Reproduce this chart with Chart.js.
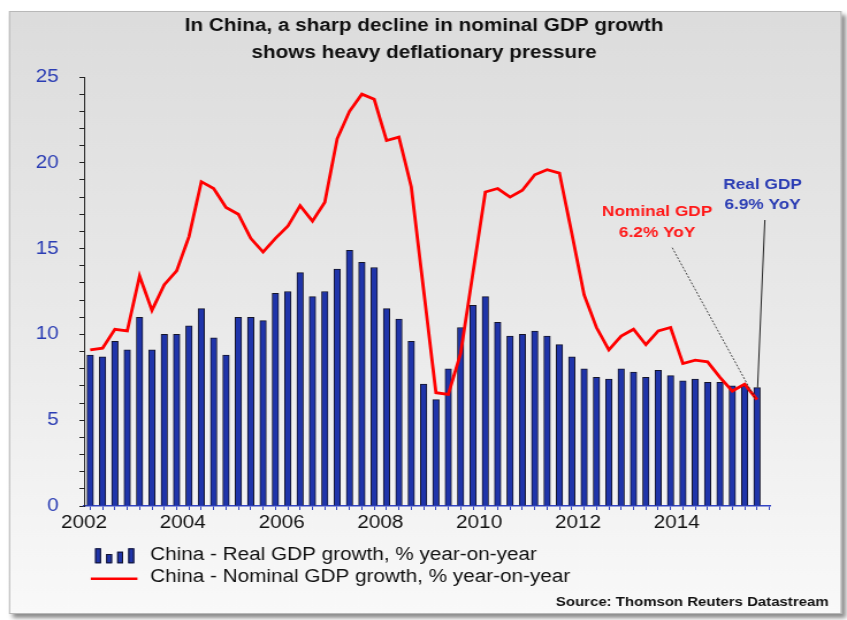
<!DOCTYPE html>
<html>
<head>
<meta charset="utf-8">
<title>China GDP growth</title>
<script src="https://cdn.jsdelivr.net/npm/chart.js@4.4.1/dist/chart.umd.min.js"></script>
<style>
  html, body { margin: 0; padding: 0; background: #ffffff; overflow: hidden; }
  #chart { display: block; }
</style>
</head>
<body>
<!-- drawn at 736 px wide, shown at 847 px wide -->
<canvas id="chart" width="736" height="620" style="width:847px;height:620px"></canvas>
<script>
// ---- data -------------------------------------------------------------
const quarters = [
  '2002 Q1','2002 Q2','2002 Q3','2002 Q4',
  '2003 Q1','2003 Q2','2003 Q3','2003 Q4',
  '2004 Q1','2004 Q2','2004 Q3','2004 Q4',
  '2005 Q1','2005 Q2','2005 Q3','2005 Q4',
  '2006 Q1','2006 Q2','2006 Q3','2006 Q4',
  '2007 Q1','2007 Q2','2007 Q3','2007 Q4',
  '2008 Q1','2008 Q2','2008 Q3','2008 Q4',
  '2009 Q1','2009 Q2','2009 Q3','2009 Q4',
  '2010 Q1','2010 Q2','2010 Q3','2010 Q4',
  '2011 Q1','2011 Q2','2011 Q3','2011 Q4',
  '2012 Q1','2012 Q2','2012 Q3','2012 Q4',
  '2013 Q1','2013 Q2','2013 Q3','2013 Q4',
  '2014 Q1','2014 Q2','2014 Q3','2014 Q4',
  '2015 Q1','2015 Q2','2015 Q3'
];

// Real GDP growth, % year-on-year
const realGdp = [
  8.8, 8.7, 9.6, 9.1,
  11.0, 9.1, 10.0, 10.0,
  10.5, 11.5, 9.8, 8.8,
  11.0, 11.0, 10.8, 12.4,
  12.5, 13.6, 12.2, 12.5,
  13.8, 14.9, 14.2, 13.9,
  11.5, 10.9, 9.6, 7.1,
  6.2, 8.0, 10.4, 11.7,
  12.2, 10.7, 9.9, 10.0,
  10.2, 9.9, 9.4, 8.7,
  8.0, 7.5, 7.4, 8.0,
  7.8, 7.5, 7.9, 7.6,
  7.3, 7.4, 7.2, 7.2,
  7.0, 7.0, 6.9
];

// Nominal GDP growth, % year-on-year
const nominalGdp = [
  9.1, 9.2, 10.3, 10.2,
  13.4, 11.4, 12.9, 13.7,
  15.7, 18.9, 18.5, 17.4,
  17.0, 15.6, 14.8, 15.6,
  16.3, 17.5, 16.6, 17.7,
  21.4, 23.0, 24.0, 23.7,
  21.3, 21.5, 18.6, 12.6,
  6.6, 6.5, 8.9, 13.6,
  18.3, 18.5, 18.0, 18.4,
  19.3, 19.6, 19.4, 15.9,
  12.3, 10.4, 9.1, 9.9,
  10.3, 9.4, 10.2, 10.4,
  8.3, 8.5, 8.4, 7.5,
  6.7, 7.1, 6.2
];

const xTickYears = [2002, 2004, 2006, 2008, 2010, 2012, 2014];
const yTickValues = [0, 5, 10, 15, 20, 25];

const titleLines = [
  'In China, a sharp decline in nominal GDP growth',
  'shows heavy deflationary pressure'
];
const seriesNames = [
  'China - Real GDP growth, % year-on-year',
  'China - Nominal GDP growth, % year-on-year'
];
const sourceNote = 'Source: Thomson Reuters Datastream';

// ---- helpers ----------------------------------------------------------
const FONT = "'Liberation Sans', Arial, Helvetica, sans-serif";
const BAR_BLUE = '#1f34aa';
const LABEL_BLUE = '#2b3db4';
const LINE_RED = '#ff0000';

// quarter label -> decimal year at the middle of the quarter
function quarterMid(label) {
  const [y, q] = label.split(' Q').map(Number);
  return y + (q - 0.5) / 4;
}
const xs = quarters.map(quarterMid);
const realPoints = xs.map((x, i) => ({ x, y: realGdp[i] }));
const nominalPoints = xs.map((x, i) => ({ x, y: nominalGdp[i] }));

// ---- panel background, frame and drop shadow ---------------------------
const panelPlugin = {
  id: 'panel',
  beforeDraw(chart) {
    const { ctx, width, height } = chart;
    const px = 7.8, py = 11, pw = 723.5, ph = 603;
    ctx.save();
    ctx.fillStyle = '#ffffff';
    ctx.fillRect(0, 0, width, height);

    const grad = ctx.createLinearGradient(0, py, 0, py + ph);
    grad.addColorStop(0, '#dcdcdc');
    grad.addColorStop(0.5, '#e9e9e9');
    grad.addColorStop(1, '#f9f9f9');

    ctx.shadowColor = 'rgba(0,0,0,0.45)';
    ctx.shadowBlur = 4;
    ctx.shadowOffsetX = 3.5;
    ctx.shadowOffsetY = 4;
    ctx.fillStyle = grad;
    ctx.fillRect(px, py, pw, ph);
    ctx.shadowColor = 'transparent';

    ctx.strokeStyle = '#b8b8b8';
    ctx.lineWidth = 1;
    ctx.strokeRect(px + 0.5, py + 0.5, pw - 1, ph - 1);
    ctx.restore();
  }
};

// ---- title, legend, source note and call-outs --------------------------
const overlayPlugin = {
  id: 'overlay',
  afterDraw(chart) {
    const { ctx } = chart;
    const xScale = chart.scales.x;
    const yScale = chart.scales.y;
    ctx.save();

    // title
    ctx.fillStyle = '#111111';
    ctx.textAlign = 'center';
    ctx.textBaseline = 'alphabetic';
    ctx.font = `bold 18px ${FONT}`;
    ctx.fillText(titleLines[0], 368.5, 31);
    ctx.fillText(titleLines[1], 368.5, 57.5);

    // legend: bar swatch
    const sw = [[82.6, 548.3], [92.2, 554], [101.8, 551.7], [111.4, 548.3]];
    ctx.fillStyle = BAR_BLUE;
    ctx.strokeStyle = '#15152a';
    ctx.lineWidth = 1;
    sw.forEach(([x, top]) => {
      ctx.fillRect(x, top, 5.2, 563.3 - top);
      ctx.strokeRect(x + 0.5, top + 0.5, 4.2, 563.3 - top - 1);
    });
    // legend: line swatch
    ctx.strokeStyle = LINE_RED;
    ctx.lineWidth = 2.6;
    ctx.beginPath();
    ctx.moveTo(78.9, 578.7);
    ctx.lineTo(119.4, 578.7);
    ctx.stroke();
    // legend texts
    ctx.fillStyle = '#111111';
    ctx.textAlign = 'left';
    ctx.font = `18px ${FONT}`;
    ctx.fillText(chart.data.datasets[0].label, 130.4, 560);
    ctx.fillText(chart.data.datasets[1].label, 130.4, 581.5);

    // source note
    ctx.textAlign = 'right';
    ctx.font = `bold 13px ${FONT}`;
    ctx.fillText(sourceNote, 720, 605.5);

    // call-outs for the latest quarter
    const last = quarters.length - 1;
    const lx = xScale.getPixelForValue(xs[last]);
    const nomY = yScale.getPixelForValue(nominalGdp[last]);
    const realY = yScale.getPixelForValue(realGdp[last]);

    ctx.strokeStyle = '#222222';
    ctx.lineWidth = 0.8;
    ctx.setLineDash([2, 1.5]);
    ctx.beginPath();
    ctx.moveTo(584.1, 247.7);
    ctx.lineTo(lx - 1.5, nomY - 1);
    ctx.stroke();
    ctx.setLineDash([]);
    ctx.lineWidth = 1;
    ctx.beginPath();
    ctx.moveTo(664.6, 220);
    ctx.lineTo(lx + 0.5, realY);
    ctx.stroke();

    ctx.textAlign = 'center';
    ctx.font = `bold 15px ${FONT}`;
    ctx.fillStyle = '#ff1a1a';
    ctx.fillText('Nominal GDP', 571, 216);
    ctx.fillText(`${nominalGdp[last].toFixed(1)}% YoY`, 571, 236.5);
    ctx.fillStyle = LABEL_BLUE;
    ctx.fillText('Real GDP', 662.6, 188.7);
    ctx.fillText(`${realGdp[last].toFixed(1)}% YoY`, 662.6, 209.4);

    ctx.restore();
  }
};

// ---- chart ------------------------------------------------------------
new Chart(document.getElementById('chart'), {
  type: 'bar',
  data: {
    datasets: [
      {
        label: seriesNames[0],
        data: realPoints,
        backgroundColor: BAR_BLUE,
        borderColor: '#15152a',
        borderWidth: 1,
        barThickness: 5.6,
        order: 1
      },
      {
        type: 'line',
        label: seriesNames[1],
        data: nominalPoints,
        borderColor: LINE_RED,
        borderWidth: 2.8,
        pointRadius: 0,
        tension: 0,
        fill: false,
        order: 0
      }
    ]
  },
  options: {
    responsive: false,
    devicePixelRatio: 1,
    animation: false,
    layout: { padding: { left: 0, right: 66.4, top: 77, bottom: 84 } },
    plugins: {
      legend: { display: false },
      title: { display: false },
      tooltip: { enabled: false }
    },
    scales: {
      x: {
        type: 'linear',
        min: 2002,
        max: 2015.9,
        offset: false,
        border: { color: '#3344c4', width: 1.5 },
        grid: { drawOnChartArea: false, drawTicks: true, tickLength: 4, tickColor: '#3344c4', tickWidth: 1 },
        ticks: {
          stepSize: 0.25,
          autoSkip: false,
          includeBounds: false,
          maxRotation: 0,
          minRotation: 0,
          padding: 2,
          color: '#111111',
          font: { family: FONT, size: 18 },
          callback: (v) => (xTickYears.includes(v) ? String(v) : '')
        },
        afterFit(scale) { scale.height = 30; }
      },
      y: {
        min: 0,
        max: 25,
        border: { color: '#222222', width: 1 },
        grid: { drawOnChartArea: false, drawTicks: true, tickLength: 4, tickColor: '#222222' },
        ticks: {
          stepSize: 1,
          autoSkip: false,
          padding: 18,
          color: LABEL_BLUE,
          font: { family: FONT, size: 18 },
          callback: (v) => (yTickValues.includes(v) ? String(v) : '')
        },
        afterFit(scale) { scale.width = 73; }
      }
    }
  },
  plugins: [panelPlugin, overlayPlugin]
});
</script>
</body>
</html>
